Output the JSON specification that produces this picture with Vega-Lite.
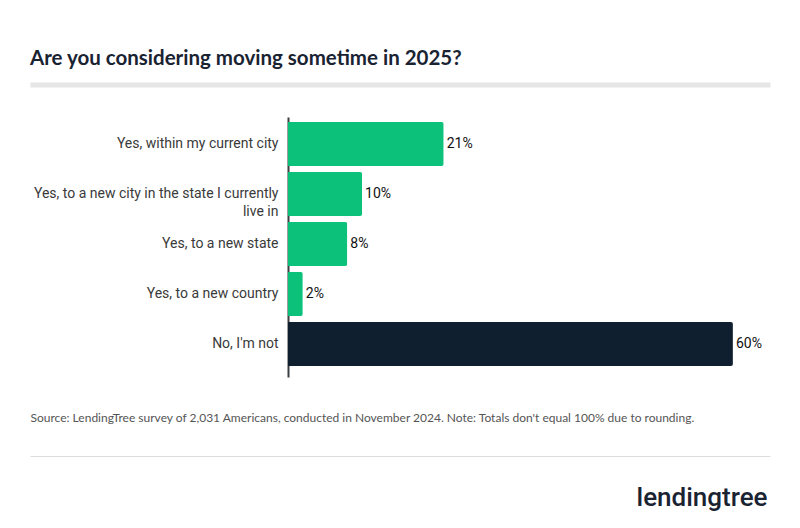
{
  "$schema": "https://vega.github.io/schema/vega-lite/v6.json",
  "width": 740,
  "height": 260,
  "autosize": "none",
  "padding": {"left": 30, "top": 117, "right": 30, "bottom": 151},
  "background": "white",
  "config": {"view": {"stroke": null}},
  "title": {
    "text": "Are you considering moving sometime in 2025?",
    "anchor": "start",
    "frame": "group",
    "baseline": "alphabetic",
    "offset": -1,
    "font": "Lato",
    "fontSize": 20.5,
    "fontWeight": "bold",
    "color": "#1a2332"
  },
  "data": {
    "values": [
      {"answer": "Yes, within my current city", "pct": 21, "label": "21%", "group": "yes"},
      {"answer": "Yes, to a new city in the state I currently live in", "pct": 10, "label": "10%", "group": "yes"},
      {"answer": "Yes, to a new state", "pct": 8, "label": "8%", "group": "yes"},
      {"answer": "Yes, to a new country", "pct": 2, "label": "2%", "group": "yes"},
      {"answer": "No, I'm not", "pct": 60, "label": "60%", "group": "no"}
    ]
  },
  "encoding": {
    "y": {
      "field": "answer",
      "type": "nominal",
      "sort": null,
      "scale": {"paddingInner": 0.12, "paddingOuter": 0.16, "align": 0.3125}
    }
  },
  "resolve": {"axis": {"x": "independent", "y": "independent"}},
  "layer": [
    {
      "mark": {"type": "bar", "cornerRadiusEnd": 2},
      "encoding": {
        "x": {
          "field": "pct",
          "type": "quantitative",
          "scale": {"domain": [-34.78, 65.0], "nice": false, "zero": false},
          "axis": {
            "orient": "top",
            "title": null,
            "labels": false,
            "ticks": false,
            "grid": false,
            "domain": true,
            "domainColor": "#e6e6e6",
            "domainWidth": 5,
            "domainCap": "butt",
            "offset": 32.5
          }
        },
        "y": {
          "field": "answer",
          "type": "nominal",
          "sort": null,
          "axis": {
            "orient": "left",
            "title": null,
            "offset": -258,
            "ticks": false,
            "grid": false,
            "domainColor": "#3a3f44",
            "domainWidth": 2,
            "labelFont": "Roboto",
            "labelFontSize": 14,
            "labelColor": "#3a3a3a",
            "labelPadding": 10,
            "labelLimit": 320,
            "labelLineHeight": 18,
            "labelExpr": "datum.value == 'Yes, to a new city in the state I currently live in' ? ['Yes, to a new city in the state I currently', 'live in'] : datum.value"
          }
        },
        "color": {
          "field": "group",
          "type": "nominal",
          "scale": {"domain": ["yes", "no"], "range": ["#0cc27a", "#101f30"]},
          "legend": null
        }
      }
    },
    {
      "mark": {"type": "text", "align": "left", "baseline": "middle", "dx": 3, "font": "Roboto", "fontSize": 14, "fontWeight": 400, "color": "#111111"},
      "encoding": {
        "x": {
          "field": "pct",
          "type": "quantitative",
          "axis": {
            "orient": "bottom",
            "labels": false,
            "ticks": false,
            "grid": false,
            "domain": true,
            "domainColor": "#dddddd",
            "domainWidth": 1,
            "offset": 79,
            "title": "Source: LendingTree survey of 2,031 Americans, conducted in November 2024. Note: Totals don't equal 100% due to rounding.",
            "titleX": 0,
            "titleY": -35,
            "titleAlign": "left",
            "titleBaseline": "alphabetic",
            "titleFont": "Lato",
            "titleFontSize": 12,
            "titleFontWeight": "normal",
            "titleColor": "#555555"
          }
        },
        "y": {
          "field": "answer",
          "type": "nominal",
          "sort": null,
          "axis": {
            "orient": "right",
            "labels": false,
            "ticks": false,
            "grid": false,
            "domain": false,
            "title": "lendingtree",
            "titleAngle": 0,
            "titleX": -3,
            "titleY": 388,
            "titleAlign": "right",
            "titleBaseline": "alphabetic",
            "titleFont": "Roboto",
            "titleFontSize": 26,
            "titleFontWeight": 500,
            "titleColor": "#1a2332"
          }
        },
        "text": {"field": "label"}
      }
    }
  ]
}
